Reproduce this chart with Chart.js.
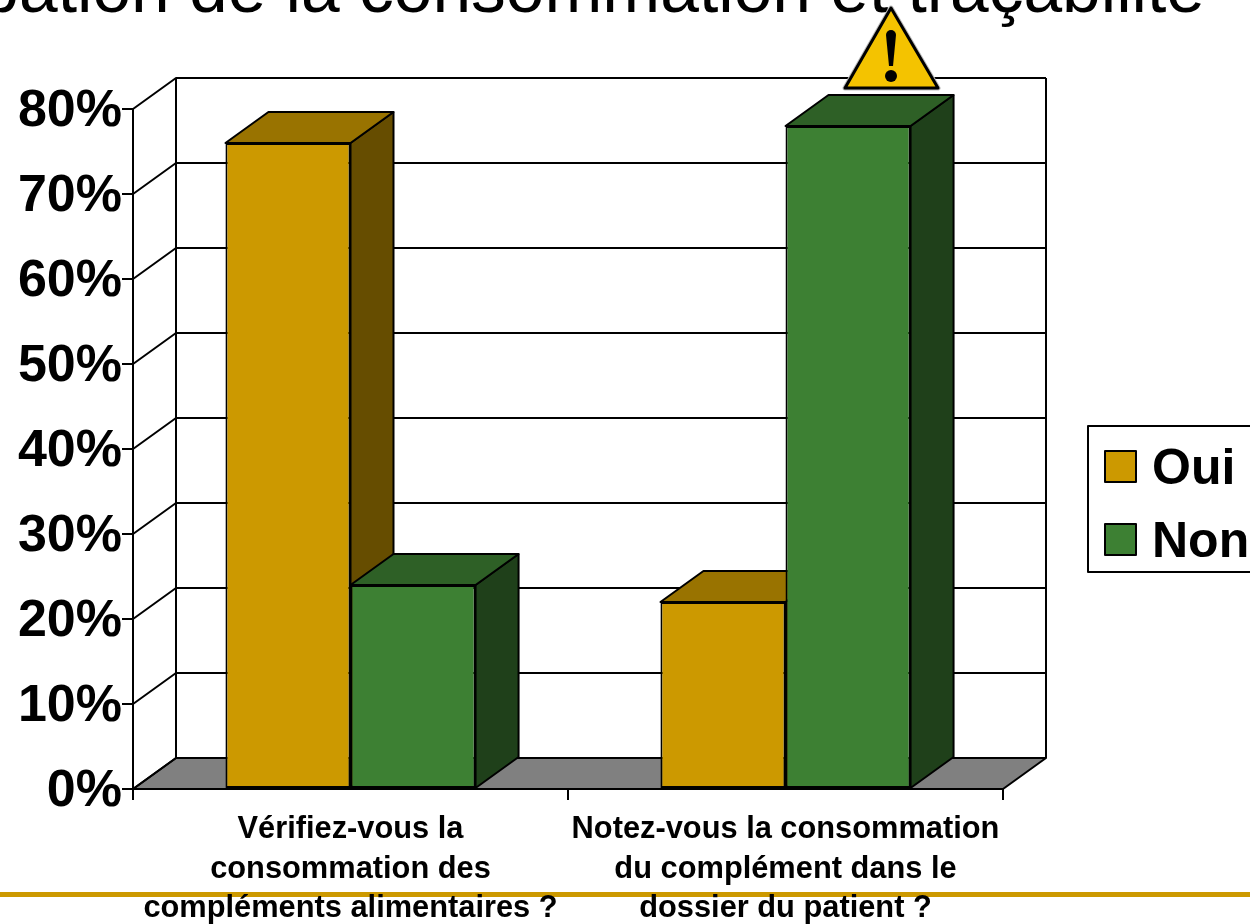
<!DOCTYPE html>
<html>
<head>
<meta charset="utf-8">
<title>Consommation et traçabilité</title>
<script src="https://cdn.jsdelivr.net/npm/chart.js@4"></script>
<style>
  html, body { margin: 0; padding: 0; background: #fff; overflow: hidden; }
  canvas { display: block; }
</style>
</head>
<body>
<canvas id="myChart" width="1250" height="924"></canvas>
<script>
const titleText = 'pation de la consommation et traçabilité';
const categories = [
    ['Vérifiez-vous la', 'consommation des', 'compléments alimentaires ?'],
    ['Notez-vous la consommation', 'du complément dans le', 'dossier du patient ?']
];
const oui = [76, 22];
const non = [24, 78];
const yTicksMax = 80;

const fontName = '"Liberation Sans", Arial, sans-serif';
const depthX = 43;
const depthY = 31;

const shades = {
    Oui: {front: '#cc9900', top: '#997300', side: '#664d00'},
    Non: {front: '#3d8033', top: '#2e6026', side: '#1f401a'}
};

function poly(ctx, pts, fill) {
    ctx.beginPath();
    pts.forEach((p, i) => i ? ctx.lineTo(p[0], p[1]) : ctx.moveTo(p[0], p[1]));
    ctx.closePath();
    if (fill) {
        ctx.fillStyle = fill;
        ctx.fill();
    }
    ctx.stroke();
}

const box3d = {
    id: 'box3d',
    beforeDraw(chart) {
        // rule at the bottom of the slide, the axis labels sit over it
        chart.ctx.fillStyle = '#cc9900';
        chart.ctx.fillRect(0, 892, 1250, 5);
    },
    beforeDatasetsDraw(chart) {
        const {ctx, chartArea: {left, right}, scales: {y}} = chart;
        const y0 = y.getPixelForValue(0);
        ctx.save();
        ctx.strokeStyle = '#000';
        ctx.lineWidth = 2;
        ctx.lineJoin = 'round';

        // floor
        poly(ctx, [[left, y0], [right, y0], [right + depthX, y0 - depthY], [left + depthX, y0 - depthY]], '#808080');

        // back wall and left wall lines
        y.ticks.forEach(t => {
            const py = y.getPixelForValue(t.value);
            ctx.beginPath();
            ctx.moveTo(left, py);
            ctx.lineTo(left + depthX, py - depthY);
            ctx.lineTo(right + depthX, py - depthY);
            ctx.stroke();
        });
        const yTop = y.getPixelForValue(yTicksMax);
        ctx.beginPath();
        ctx.moveTo(left + depthX, yTop - depthY);
        ctx.lineTo(left + depthX, y0 - depthY);
        ctx.moveTo(right + depthX, yTop - depthY);
        ctx.lineTo(right + depthX, y0 - depthY);
        ctx.stroke();

        // side and top faces of the bars, front faces come from the chart itself
        chart.data.datasets.forEach((ds, i) => {
            chart.getDatasetMeta(i).data.forEach(bar => {
                const l = bar.x - bar.width / 2;
                const r = bar.x + bar.width / 2;
                poly(ctx, [[r, bar.y], [r + depthX, bar.y - depthY], [r + depthX, bar.base - depthY], [r, bar.base]], shades[ds.label].side);
                poly(ctx, [[l, bar.y], [r, bar.y], [r + depthX, bar.y - depthY], [l + depthX, bar.y - depthY]], shades[ds.label].top);
            });
        });
        ctx.restore();
    },
    afterDraw(chart) {
        const {ctx} = chart;
        ctx.save();

        // slide title, cut by the top of the page
        ctx.fillStyle = '#000';
        ctx.font = '69.5px ' + fontName;
        ctx.textAlign = 'right';
        ctx.textBaseline = 'alphabetic';
        ctx.fillText(titleText, 1205, 12);

        // warning sign
        ctx.lineJoin = 'round';
        const tri = [[891, 8], [938, 88], [845, 88]];
        ctx.strokeStyle = '#bbb';
        ctx.lineWidth = 5;
        poly(ctx, tri);
        ctx.strokeStyle = '#000';
        ctx.lineWidth = 3;
        poly(ctx, tri, '#f4c300');
        ctx.fillStyle = '#000';
        ctx.beginPath();
        ctx.arc(891, 35, 5, Math.PI, 0);
        ctx.lineTo(893, 66);
        ctx.lineTo(889, 66);
        ctx.closePath();
        ctx.fill();
        ctx.beginPath();
        ctx.arc(891, 76, 6, 0, Math.PI * 2);
        ctx.fill();

        // legend box, runs off the right of the page
        ctx.strokeStyle = '#000';
        ctx.lineWidth = 2;
        ctx.fillStyle = '#fff';
        ctx.fillRect(1088, 426, 170, 146);
        ctx.strokeRect(1088, 426, 170, 146);
        ctx.textAlign = 'left';
        ctx.textBaseline = 'middle';
        ctx.font = 'bold 50px ' + fontName;
        chart.data.datasets.forEach((ds, i) => {
            const top = 451 + i * 73;
            ctx.fillStyle = ds.backgroundColor;
            ctx.fillRect(1105, top, 31, 31);
            ctx.strokeRect(1105, top, 31, 31);
            ctx.fillStyle = '#000';
            ctx.fillText(ds.label, 1152, top + 19);
        });
        ctx.restore();
    }
};

new Chart(document.getElementById('myChart').getContext('2d'), {
    type: 'bar',
    data: {
        labels: categories,
        datasets: [
            {label: 'Oui', data: oui, backgroundColor: shades.Oui.front, borderColor: '#000', borderWidth: 2, borderSkipped: false},
            {label: 'Non', data: non, backgroundColor: shades.Non.front, borderColor: '#000', borderWidth: 2, borderSkipped: false}
        ]
    },
    options: {
        responsive: false,
        animation: false,
        categoryPercentage: 0.575,
        barPercentage: 1,
        layout: {padding: {top: 109, right: 247, left: 0, bottom: 0}},
        plugins: {
            legend: {display: false},
            title: {display: false},
            tooltip: {enabled: false}
        },
        scales: {
            y: {
                min: 0,
                max: yTicksMax,
                afterFit(scale) { scale.width = 133; },
                border: {display: true, color: '#000', width: 2},
                grid: {drawOnChartArea: false, drawTicks: true, tickLength: 11, color: '#000', lineWidth: 2},
                ticks: {
                    stepSize: 10,
                    padding: 0,
                    color: '#000',
                    // empty first line pushes the label down a few pixels
                    callback: v => ['', v + '%'],
                    font: {family: fontName, weight: 'bold', size: 52, lineHeight: 0.12}
                }
            },
            x: {
                afterFit(scale) { scale.height = 135; },
                border: {display: true, color: '#000', width: 2},
                grid: {drawOnChartArea: false, drawTicks: true, tickLength: 11, color: '#000', lineWidth: 2},
                ticks: {
                    autoSkip: false,
                    maxRotation: 0,
                    minRotation: 0,
                    padding: 10,
                    color: '#000',
                    font: {family: fontName, weight: 'bold', size: 30.8, lineHeight: 1.28}
                }
            }
        }
    },
    plugins: [box3d]
});
</script>
</body>
</html>
